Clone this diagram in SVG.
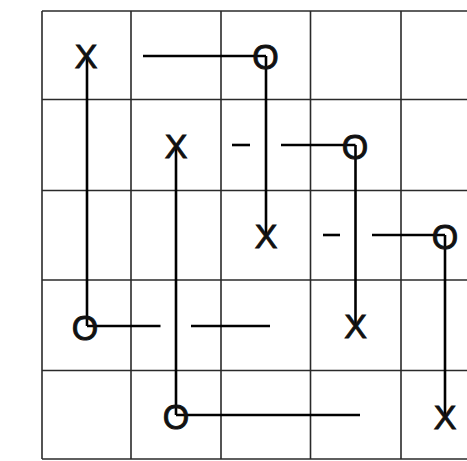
<svg xmlns="http://www.w3.org/2000/svg" width="467" height="461" viewBox="0 0 467 461">
<style>
.grid{stroke:#2a2a2a;stroke-width:1.6;fill:none}
.conn{stroke:#000;stroke-width:2.6;fill:none}
.mark{font-family:"Liberation Sans",Arial,sans-serif;font-size:34px;fill:#111;stroke:#111;stroke-width:0.9;text-anchor:middle}
.o{font-size:35px}
</style>
<rect width="467" height="461" fill="#fff"/>
<g id="grid" class="grid">
<line x1="42" y1="11" x2="467" y2="11"/>
<line x1="42" y1="99.5" x2="467" y2="99.5"/>
<line x1="42" y1="190.5" x2="467" y2="190.5"/>
<line x1="42" y1="280" x2="467" y2="280"/>
<line x1="42" y1="370.5" x2="467" y2="370.5"/>
<line x1="42" y1="459" x2="467" y2="459"/>
<line x1="42" y1="11" x2="42" y2="459"/>
<line x1="131" y1="11" x2="131" y2="459"/>
<line x1="221" y1="11" x2="221" y2="459"/>
<line x1="310.5" y1="11" x2="310.5" y2="459"/>
<line x1="401" y1="11" x2="401" y2="459"/>
</g>
<g id="connectors" class="conn">
<line x1="87" y1="56" x2="87" y2="326"/>
<line x1="87" y1="326" x2="160.5" y2="326"/>
<line x1="191" y1="326" x2="270" y2="326"/>
<line x1="176" y1="146" x2="176" y2="415"/>
<line x1="176" y1="415" x2="360" y2="415"/>
<line x1="143" y1="56" x2="266" y2="56"/>
<line x1="266" y1="56" x2="266" y2="236"/>
<line x1="232" y1="145" x2="250" y2="145"/>
<line x1="281" y1="145" x2="355.5" y2="145"/>
<line x1="355.5" y1="145" x2="355.5" y2="326"/>
<line x1="323" y1="235" x2="340" y2="235"/>
<line x1="372" y1="235" x2="445" y2="235"/>
<line x1="445" y1="235" x2="445" y2="416"/>
</g>
<g id="x-r1c1"><text class="mark" x="86" y="68">X</text></g>
<g id="o-r4c1"><text class="mark o" x="85" y="339.5" textLength="26.5" lengthAdjust="spacingAndGlyphs">O</text></g>
<g id="x-r2c2"><text class="mark" x="176" y="158">X</text></g>
<g id="o-r5c2"><text class="mark o" x="176" y="428.5" textLength="26.5" lengthAdjust="spacingAndGlyphs">O</text></g>
<g id="o-r1c3"><text class="mark o" x="265.5" y="69" textLength="26.5" lengthAdjust="spacingAndGlyphs">O</text></g>
<g id="x-r3c3"><text class="mark" x="266" y="248">X</text></g>
<g id="o-r2c4"><text class="mark o" x="355" y="158.5" textLength="26.5" lengthAdjust="spacingAndGlyphs">O</text></g>
<g id="x-r4c4"><text class="mark" x="355.5" y="338">X</text></g>
<g id="o-r3c5"><text class="mark o" x="445" y="248.5" textLength="26.5" lengthAdjust="spacingAndGlyphs">O</text></g>
<g id="x-r5c5"><text class="mark" x="445" y="429">X</text></g>
</svg>
